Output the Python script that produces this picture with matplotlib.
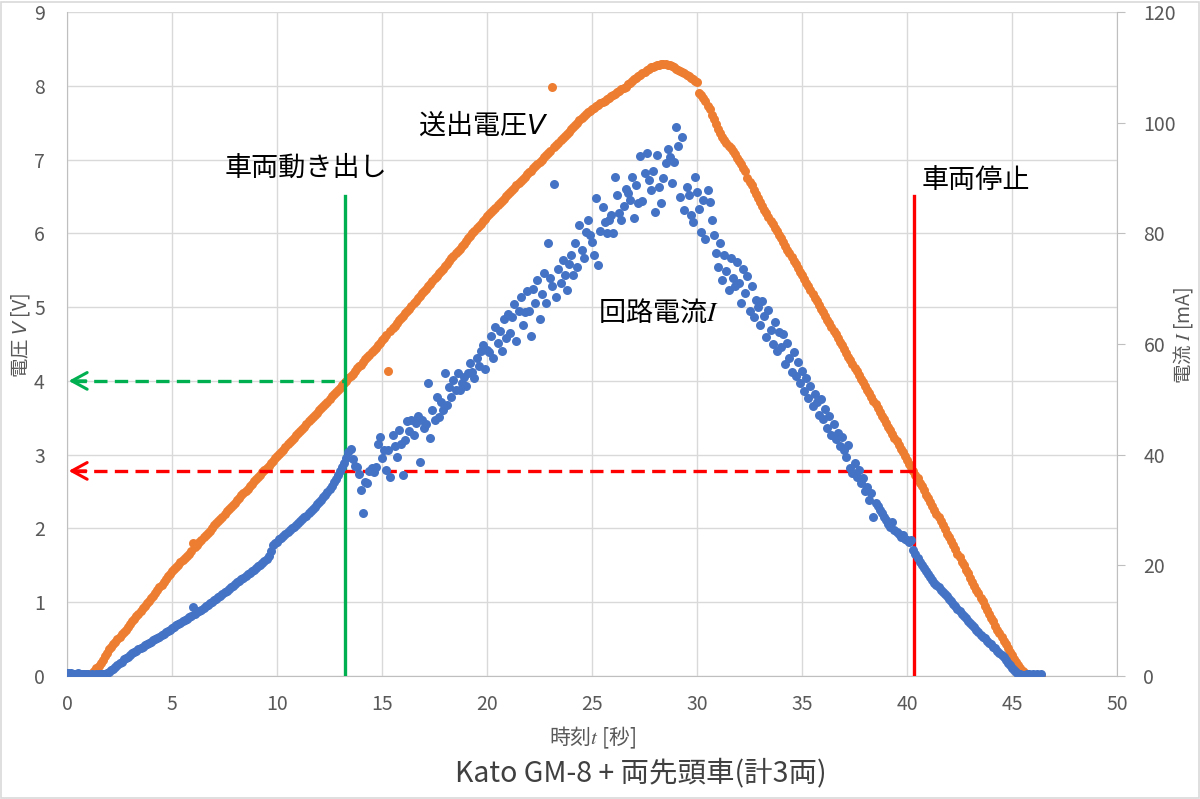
import matplotlib
matplotlib.use("Agg")
import matplotlib.pyplot as plt
from matplotlib.patches import Rectangle

plt.rcParams["font.family"] = ["Noto Sans CJK JP", "DejaVu Sans"]

# ---------------------------------------------------------------------------
# Data (sampled every 0.1 s)
# ---------------------------------------------------------------------------
time_s = [
    0.0, 0.1, 0.2, 0.3, 0.4, 0.5, 0.6, 0.7, 0.8, 0.9,
    1.0, 1.1, 1.2, 1.3, 1.4, 1.5, 1.6, 1.7, 1.8, 1.9,
    2.0, 2.1, 2.2, 2.3, 2.4, 2.5, 2.6, 2.7, 2.8, 2.9,
    3.0, 3.1, 3.2, 3.3, 3.4, 3.5, 3.6, 3.7, 3.8, 3.9,
    4.0, 4.1, 4.2, 4.3, 4.4, 4.5, 4.6, 4.7, 4.8, 4.9,
    5.0, 5.1, 5.2, 5.3, 5.4, 5.5, 5.6, 5.7, 5.8, 5.9,
    6.0, 6.1, 6.2, 6.3, 6.4, 6.5, 6.6, 6.7, 6.8, 6.9,
    7.0, 7.1, 7.2, 7.3, 7.4, 7.5, 7.6, 7.7, 7.8, 7.9,
    8.0, 8.1, 8.2, 8.3, 8.4, 8.5, 8.6, 8.7, 8.8, 8.9,
    9.0, 9.1, 9.2, 9.3, 9.4, 9.5, 9.6, 9.7, 9.8, 9.9,
    10.0, 10.1, 10.2, 10.3, 10.4, 10.5, 10.6, 10.7, 10.8, 10.9,
    11.0, 11.1, 11.2, 11.3, 11.4, 11.5, 11.6, 11.7, 11.8, 11.9,
    12.0, 12.1, 12.2, 12.3, 12.4, 12.5, 12.6, 12.7, 12.8, 12.9,
    13.0, 13.1, 13.2, 13.3, 13.4, 13.5, 13.6, 13.7, 13.8, 13.9,
    14.0, 14.1, 14.2, 14.3, 14.4, 14.5, 14.6, 14.7, 14.8, 14.9,
    15.0, 15.1, 15.2, 15.3, 15.4, 15.5, 15.6, 15.7, 15.8, 15.9,
    16.0, 16.1, 16.2, 16.3, 16.4, 16.5, 16.6, 16.7, 16.8, 16.9,
    17.0, 17.1, 17.2, 17.3, 17.4, 17.5, 17.6, 17.7, 17.8, 17.9,
    18.0, 18.1, 18.2, 18.3, 18.4, 18.5, 18.6, 18.7, 18.8, 18.9,
    19.0, 19.1, 19.2, 19.3, 19.4, 19.5, 19.6, 19.7, 19.8, 19.9,
    20.0, 20.1, 20.2, 20.3, 20.4, 20.5, 20.6, 20.7, 20.8, 20.9,
    21.0, 21.1, 21.2, 21.3, 21.4, 21.5, 21.6, 21.7, 21.8, 21.9,
    22.0, 22.1, 22.2, 22.3, 22.4, 22.5, 22.6, 22.7, 22.8, 22.9,
    23.0, 23.1, 23.2, 23.3, 23.4, 23.5, 23.6, 23.7, 23.8, 23.9,
    24.0, 24.1, 24.2, 24.3, 24.4, 24.5, 24.6, 24.7, 24.8, 24.9,
    25.0, 25.1, 25.2, 25.3, 25.4, 25.5, 25.6, 25.7, 25.8, 25.9,
    26.0, 26.1, 26.2, 26.3, 26.4, 26.5, 26.6, 26.7, 26.8, 26.9,
    27.0, 27.1, 27.2, 27.3, 27.4, 27.5, 27.6, 27.7, 27.8, 27.9,
    28.0, 28.1, 28.2, 28.3, 28.4, 28.5, 28.6, 28.7, 28.8, 28.9,
    29.0, 29.1, 29.2, 29.3, 29.4, 29.5, 29.6, 29.7, 29.8, 29.9,
    30.0, 30.1, 30.2, 30.3, 30.4, 30.5, 30.6, 30.7, 30.8, 30.9,
    31.0, 31.1, 31.2, 31.3, 31.4, 31.5, 31.6, 31.7, 31.8, 31.9,
    32.0, 32.1, 32.2, 32.3, 32.4, 32.5, 32.6, 32.7, 32.8, 32.9,
    33.0, 33.1, 33.2, 33.3, 33.4, 33.5, 33.6, 33.7, 33.8, 33.9,
    34.0, 34.1, 34.2, 34.3, 34.4, 34.5, 34.6, 34.7, 34.8, 34.9,
    35.0, 35.1, 35.2, 35.3, 35.4, 35.5, 35.6, 35.7, 35.8, 35.9,
    36.0, 36.1, 36.2, 36.3, 36.4, 36.5, 36.6, 36.7, 36.8, 36.9,
    37.0, 37.1, 37.2, 37.3, 37.4, 37.5, 37.6, 37.7, 37.8, 37.9,
    38.0, 38.1, 38.2, 38.3, 38.4, 38.5, 38.6, 38.7, 38.8, 38.9,
    39.0, 39.1, 39.2, 39.3, 39.4, 39.5, 39.6, 39.7, 39.8, 39.9,
    40.0, 40.1, 40.2, 40.3, 40.4, 40.5, 40.6, 40.7, 40.8, 40.9,
    41.0, 41.1, 41.2, 41.3, 41.4, 41.5, 41.6, 41.7, 41.8, 41.9,
    42.0, 42.1, 42.2, 42.3, 42.4, 42.5, 42.6, 42.7, 42.8, 42.9,
    43.0, 43.1, 43.2, 43.3, 43.4, 43.5, 43.6, 43.7, 43.8, 43.9,
    44.0, 44.1, 44.2, 44.3, 44.4, 44.5, 44.6, 44.7, 44.8, 44.9,
    45.0, 45.1, 45.2, 45.3, 45.4, 45.5, 45.6, 45.7, 45.8, 45.9,
    46.0, 46.1, 46.2, 46.3, 46.4,
]

# 送出電圧 V [V]
voltage_v = [
    0.00, 0.00, 0.00, 0.00, 0.00, 0.00, 0.00, 0.00, 0.00, 0.00,
    0.00, 0.02, 0.04, 0.07, 0.11, 0.14, 0.18, 0.22, 0.27, 0.31,
    0.36, 0.39, 0.43, 0.46, 0.50, 0.53, 0.57, 0.60, 0.63, 0.67,
    0.70, 0.74, 0.77, 0.81, 0.84, 0.88, 0.92, 0.95, 0.99, 1.02,
    1.06, 1.09, 1.13, 1.17, 1.20, 1.24, 1.28, 1.31, 1.35, 1.38,
    1.42, 1.45, 1.48, 1.51, 1.54, 1.57, 1.60, 1.63, 1.66, 1.69,
    1.80, 1.75, 1.78, 1.81, 1.84, 1.88, 1.91, 1.94, 1.97, 2.01,
    2.04, 2.07, 2.10, 2.13, 2.16, 2.20, 2.23, 2.26, 2.29, 2.32,
    2.35, 2.38, 2.41, 2.45, 2.48, 2.51, 2.54, 2.57, 2.60, 2.64,
    2.67, 2.70, 2.73, 2.76, 2.79, 2.82, 2.85, 2.89, 2.92, 2.95,
    2.98, 3.01, 3.04, 3.07, 3.10, 3.14, 3.17, 3.20, 3.23, 3.26,
    3.29, 3.32, 3.35, 3.38, 3.41, 3.45, 3.48, 3.51, 3.54, 3.57,
    3.60, 3.63, 3.66, 3.69, 3.72, 3.76, 3.79, 3.82, 3.85, 3.88,
    3.91, 3.94, 3.97, 4.00, 4.04, 4.07, 4.10, 4.14, 4.17, 4.20,
    4.22, 4.26, 4.29, 4.32, 4.35, 4.39, 4.42, 4.45, 4.49, 4.52,
    4.55, 4.58, 4.62, 4.13, 4.68, 4.72, 4.75, 4.78, 4.82, 4.85,
    4.88, 4.92, 4.95, 4.98, 5.02, 5.05, 5.08, 5.12, 5.15, 5.19,
    5.22, 5.25, 5.29, 5.32, 5.35, 5.39, 5.42, 5.46, 5.49, 5.52,
    5.56, 5.59, 5.62, 5.66, 5.69, 5.73, 5.76, 5.79, 5.83, 5.86,
    5.90, 5.93, 5.96, 6.00, 6.03, 6.07, 6.10, 6.13, 6.17, 6.20,
    6.23, 6.26, 6.29, 6.32, 6.35, 6.38, 6.41, 6.44, 6.47, 6.50,
    6.53, 6.56, 6.59, 6.62, 6.65, 6.68, 6.71, 6.74, 6.77, 6.80,
    6.83, 6.85, 6.88, 6.91, 6.94, 6.97, 7.00, 7.03, 7.06, 7.09,
    7.12, 7.98, 7.17, 7.20, 7.23, 7.26, 7.29, 7.32, 7.35, 7.38,
    7.41, 7.44, 7.47, 7.50, 7.53, 7.56, 7.59, 7.62, 7.64, 7.66,
    7.68, 7.70, 7.72, 7.74, 7.76, 7.78, 7.80, 7.82, 7.84, 7.86,
    7.87, 7.89, 7.91, 7.93, 7.95, 7.97, 7.99, 8.02, 8.04, 8.06,
    8.09, 8.11, 8.13, 8.15, 8.17, 8.19, 8.21, 8.23, 8.25, 8.26,
    8.27, 8.28, 8.28, 8.29, 8.29, 8.29, 8.28, 8.28, 8.27, 8.25,
    8.23, 8.22, 8.20, 8.18, 8.17, 8.15, 8.13, 8.11, 8.09, 8.07,
    8.05, 7.90, 7.87, 7.83, 7.79, 7.73, 7.68, 7.61, 7.55, 7.48,
    7.42, 7.36, 7.31, 7.27, 7.23, 7.19, 7.15, 7.11, 7.07, 7.02,
    6.98, 6.94, 6.89, 6.85, 6.75, 6.70, 6.65, 6.59, 6.53, 6.48,
    6.42, 6.37, 6.32, 6.27, 6.22, 6.17, 6.12, 6.07, 6.03, 5.98,
    5.93, 5.88, 5.83, 5.78, 5.73, 5.68, 5.63, 5.58, 5.53, 5.48,
    5.43, 5.38, 5.33, 5.28, 5.23, 5.18, 5.13, 5.08, 5.03, 4.98,
    4.93, 4.88, 4.83, 4.78, 4.73, 4.68, 4.63, 4.58, 4.53, 4.48,
    4.43, 4.38, 4.33, 4.28, 4.23, 4.18, 4.13, 4.08, 4.03, 3.98,
    3.93, 3.88, 3.83, 3.78, 3.73, 3.68, 3.63, 3.58, 3.53, 3.48,
    3.43, 3.38, 3.33, 3.28, 3.23, 3.18, 3.13, 3.08, 3.03, 2.98,
    2.93, 2.88, 2.83, 2.78, 2.73, 2.68, 2.62, 2.57, 2.52, 2.46,
    2.41, 2.36, 2.31, 2.25, 2.20, 2.15, 2.10, 2.04, 1.99, 1.93,
    1.88, 1.83, 1.77, 1.72, 1.66, 1.61, 1.55, 1.50, 1.44, 1.39,
    1.33, 1.28, 1.22, 1.17, 1.12, 1.06, 1.01, 0.95, 0.90, 0.84,
    0.79, 0.74, 0.68, 0.63, 0.58, 0.53, 0.48, 0.43, 0.38, 0.33,
    0.28, 0.23, 0.19, 0.15, 0.11, 0.07, 0.04, 0.02, 0.01, 0.00,
    0.00, 0.00, 0.00, 0.00, 0.00,
]

# 回路電流 I [mA]
current_ma = [
    0.5, 0.6, 0.5, 0.4, 0.4, 0.5, 0.3, 0.4, 0.3, 0.3,
    0.3, 0.2, 0.3, 0.2, 0.3, 0.3, 0.4, 0.3, 0.4, 0.5,
    0.7, 1.0, 1.3, 1.6, 2.0, 2.3, 2.6, 3.0, 3.3, 3.5,
    3.8, 4.1, 4.3, 4.6, 4.8, 5.1, 5.3, 5.6, 5.8, 6.0,
    6.2, 6.5, 6.7, 6.9, 7.1, 7.4, 7.6, 7.9, 8.1, 8.4,
    8.7, 8.9, 9.2, 9.4, 9.6, 9.9, 10.1, 10.3, 10.6, 10.8,
    12.4, 11.2, 11.5, 11.7, 12.0, 12.3, 12.6, 12.9, 13.2, 13.4,
    13.7, 13.9, 14.2, 14.5, 14.8, 15.1, 15.4, 15.7, 16.0, 16.3,
    16.6, 16.9, 17.2, 17.5, 17.8, 18.1, 18.4, 18.7, 19.0, 19.2,
    19.5, 19.8, 20.1, 20.4, 20.8, 21.2, 21.6, 22.6, 23.6, 24.0,
    24.3, 24.7, 25.0, 25.3, 25.7, 26.0, 26.3, 26.7, 27.0, 27.3,
    27.6, 28.0, 28.3, 28.7, 29.0, 29.4, 29.8, 30.2, 30.6, 31.0,
    31.4, 31.8, 32.3, 32.8, 33.3, 33.8, 34.4, 35.0, 35.6, 36.3,
    37.0, 37.7, 38.5, 39.4, 40.5, 41.0, 39.3, 38.0, 37.8, 36.5,
    33.6, 29.5, 35.0, 34.9, 37.0, 37.6, 36.8, 37.8, 42.0, 43.2,
    39.4, 40.8, 37.2, 40.8, 36.0, 43.5, 41.5, 39.6, 44.5, 42.0,
    36.3, 42.7, 46.0, 44.2, 46.3, 43.5, 45.7, 47.0, 38.7, 46.3,
    44.8, 45.5, 53.0, 43.0, 48.0, 46.2, 50.4, 46.8, 49.5, 48.0,
    54.8, 49.0, 52.2, 50.5, 53.5, 51.7, 54.8, 51.7, 53.0, 54.0,
    52.5, 54.8, 56.6, 55.0, 53.8, 57.5, 56.0, 58.8, 59.8, 55.5,
    59.0, 58.6, 61.5, 57.5, 63.0, 60.2, 62.4, 58.8, 64.5, 61.0,
    65.5, 62.0, 64.8, 67.2, 60.5, 66.0, 68.5, 63.5, 65.8, 69.5,
    66.0, 61.5, 70.0, 67.4, 71.5, 64.5, 69.0, 72.8, 67.5, 78.3,
    72.0, 70.5, 88.9, 68.5, 73.5, 71.0, 75.2, 72.5, 69.8, 74.5,
    76.0, 72.5, 78.3, 74.0, 81.5, 77.0, 75.5, 80.2, 82.4, 79.7,
    78.5, 76.0, 86.4, 74.3, 80.5, 84.8, 82.0, 80.1, 82.4, 83.3,
    80.0, 90.2, 86.9, 83.7, 82.5, 85.0, 88.0, 87.3, 86.0, 90.2,
    82.8, 88.7, 85.5, 94.0, 85.8, 90.9, 94.5, 89.6, 87.8, 91.3,
    83.9, 94.2, 88.4, 85.5, 90.0, 92.7, 95.2, 93.8, 89.1, 92.9,
    99.2, 95.8, 86.6, 97.4, 84.2, 88.4, 86.9, 83.3, 82.1, 90.2,
    87.5, 84.4, 80.2, 86.0, 79.0, 87.8, 85.7, 82.5, 79.7, 76.5,
    74.0, 78.2, 71.5, 76.0, 73.2, 69.8, 75.5, 72.0, 70.4, 74.8,
    71.0, 67.5, 73.5, 69.2, 72.3, 66.0, 70.5, 64.8, 68.0, 66.7,
    63.5, 67.8, 65.0, 61.2, 66.2, 62.5, 60.0, 64.0, 58.8, 62.2,
    59.5, 61.8, 56.4, 60.2, 57.5, 55.0, 58.6, 54.2, 56.8, 53.0,
    55.2, 51.5, 53.8, 50.2, 52.5, 48.8, 51.0, 49.5, 47.2, 50.0,
    46.5, 48.2, 44.8, 47.0, 43.5, 45.6, 42.8, 44.0, 41.5, 43.2,
    40.8, 39.5, 41.8, 37.6, 36.7, 38.5, 36.0, 37.2, 34.9, 35.8,
    33.5, 34.2, 31.8, 33.0, 28.7, 31.2, 30.8, 30.0, 29.5, 28.8,
    28.2, 27.5, 27.0, 27.8, 26.4, 26.0, 25.6, 25.1, 25.4, 24.8,
    24.5, 24.2, 24.6, 22.8, 22.0, 21.3, 20.6, 20.0, 19.5, 19.0,
    18.5, 17.9, 17.3, 16.8, 16.4, 16.0, 15.6, 15.2, 14.8, 14.4,
    14.0, 13.5, 13.1, 12.6, 12.1, 11.7, 11.2, 10.8, 10.4, 10.0,
    9.6, 9.2, 8.8, 8.3, 7.9, 7.5, 7.1, 6.8, 6.4, 6.0,
    5.7, 5.3, 5.0, 4.6, 4.2, 3.8, 3.4, 2.9, 2.4, 2.0,
    1.5, 1.1, 0.7, 0.4, 0.3, 0.2, 0.2, 0.3, 0.3, 0.2,
    0.3, 0.2, 0.3, 0.2, 0.3,
]

time_ticks = [0, 5, 10, 15, 20, 25, 30, 35, 40, 45, 50]
volt_ticks = [0, 1, 2, 3, 4, 5, 6, 7, 8, 9]
current_ticks = [0, 20, 40, 60, 80, 100, 120]

# start / stop markers: (time, voltage at that moment)
start_time, start_volt = 13.24, 4.0
stop_time, stop_volt = 40.33, 2.78
marker_line_top = 6.5

ORANGE = "#ed7d31"
BLUE = "#4472c4"
GREEN = "#00b050"
RED = "#ff0000"
GRID = "#d9d9d9"
AXIS = "#bfbfbf"
TEXT = "#595959"

# ---------------------------------------------------------------------------
# Figure
# ---------------------------------------------------------------------------
fig = plt.figure(figsize=(12, 7.99), dpi=100)
ax = fig.add_axes([67 / 1200, 1 - 676 / 799, 1050 / 1200, 664 / 799])
ax2 = ax.twinx()

ax.scatter(time_s, voltage_v, s=42, color=ORANGE, linewidths=0, zorder=3)
ax2.scatter(time_s, current_ma, s=42, color=BLUE, linewidths=0, zorder=3)

# vertical markers: start / stop of the train
ax.plot([start_time, start_time], [0, marker_line_top], color=GREEN, lw=2.4, zorder=4)
ax.plot([stop_time, stop_time], [0, marker_line_top], color=RED, lw=2.4, zorder=4)

# dashed arrows to the voltage axis
for tt, vv, col in [(start_time, start_volt, GREEN), (stop_time, stop_volt, RED)]:
    ax.plot([0.3, tt], [vv, vv], color=col, lw=2.4, ls=(0, (4, 2.2)), zorder=4)
    ax.annotate("", xy=(0.08, vv), xytext=(0.9, vv),
                arrowprops=dict(arrowstyle="->,head_length=0.55,head_width=0.3",
                                color=col, lw=2.2, mutation_scale=20,
                                shrinkA=0, shrinkB=0), zorder=4)

ax.set_xlim(0, 50)
ax.set_ylim(0, 9)
ax2.set_ylim(0, 120)
ax.set_xticks(time_ticks)
ax.set_yticks(volt_ticks)
ax2.set_yticks(current_ticks)

ax.grid(True, color=GRID, lw=1)
ax.set_axisbelow(True)

for side in ["top", "right"]:
    ax.spines[side].set_visible(False)
for side in ["left", "bottom"]:
    ax.spines[side].set_color(AXIS)
for side in ["top", "left", "bottom"]:
    ax2.spines[side].set_visible(False)
ax2.spines["right"].set_color(AXIS)

ax.tick_params(axis="both", length=0, labelsize=14, labelcolor=TEXT)
ax.tick_params(axis="x", pad=13)
ax.tick_params(axis="y", pad=16)
ax2.tick_params(axis="y", length=6, color=AXIS, labelsize=14,
                labelcolor=TEXT, pad=13)

ax.set_xlabel("時刻$t$ [秒]", fontsize=15, color=TEXT, math_fontfamily="stix")
ax.xaxis.set_label_coords(0.5, -(738 - 676) / 664, transform=ax.transAxes)
ax.set_ylabel("電圧 $V$ [V]", fontsize=14, color=TEXT)
ax.yaxis.set_label_coords(-(67 - 20) / 1050, (676 - 335) / 664)
ax2.set_ylabel("電流 $I$ [mA]", fontsize=14, color=TEXT, math_fontfamily="stix",
               va="center")
ax2.yaxis.set_label_coords(1 + (1183 - 1117) / 1050, (676 - 335) / 664)
ax.xaxis.label.set_va("center")
ax.yaxis.label.set_va("center")

# in-chart labels
ax.text(16.7, 7.47, "送出電圧$V$", fontsize=19.5, va="center", zorder=5)
ax.text(7.5, 6.88, "車両動き出し", fontsize=19.5, va="center", zorder=5)
ax.text(40.7, 6.72, "車両停止", fontsize=19.5, va="center", zorder=5)
ax.text(25.3, 4.93, "回路電流$I$", fontsize=19.5, va="center", zorder=5,
        math_fontfamily="stix")

fig.text(641 / 1200, 1 - 773 / 799, "Kato GM-8 + 両先頭車(計3両)",
         ha="center", va="center", fontsize=20.5, color="#404040")

# light chart border
fig.patches.append(Rectangle((0.001, 0.001), 0.998, 0.997, transform=fig.transFigure,
                             fill=False, edgecolor=GRID, lw=1.2))

fig.savefig("out.png", dpi=100)
